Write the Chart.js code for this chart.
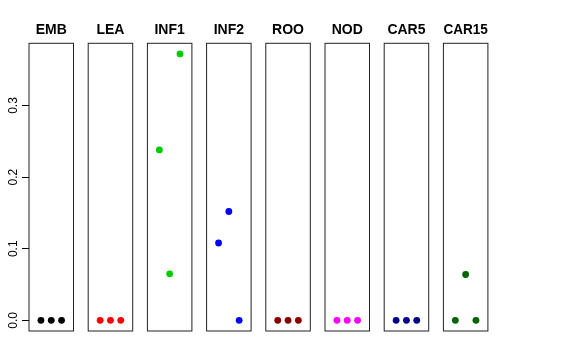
<!DOCTYPE html>
<html>
<head>
<meta charset="utf-8">
<script src="https://cdn.jsdelivr.net/npm/chart.js@4.4.1/dist/chart.umd.min.js"></script>
<style>
  html, body { margin: 0; padding: 0; background: #ffffff; }
  #wrap { position: relative; width: 576px; height: 360px; overflow: hidden; background: #fff; }
  canvas { position: absolute; top: 0; }
</style>
</head>
<body>
<div id="wrap"></div>
<script>
// ---- data ----
const panelNames = ['EMB', 'LEA', 'INF1', 'INF2', 'ROO', 'NOD', 'CAR5', 'CAR15'];
const xPositions = [1, 2, 3];
const EMB   = [0, 0, 0];
const LEA   = [0, 0, 0];
const INF1  = [0.238, 0.065, 0.372];
const INF2  = [0.108, 0.152, 0];
const ROO   = [0, 0, 0];
const NOD   = [0, 0, 0];
const CAR5  = [0, 0, 0];
const CAR15 = [0, 0.064, 0];
const yTickValues = [0, 0.1, 0.2, 0.3];
const yTickLabels = ['0.0', '0.1', '0.2', '0.3'];

// ---- styles ----
const panelColors = ['#000000', '#FF0000', '#00CD00', '#0000FF', '#8B0000', '#FF00FF', '#00008B', '#006400'];
const seriesByPanel = [EMB, LEA, INF1, INF2, ROO, NOD, CAR5, CAR15];

const FONT = '"Liberation Sans", Arial, Helvetica, sans-serif';
const panelLeft0 = 29, panelStep = 59.2, panelW = 44.5;
const plotTop = 43.3, plotBottom = 331, H = 360;

// axis ranges like R (4% extension)
const allY = [].concat(...seriesByPanel);
const yMinD = 0, yMaxD = Math.max(...allY);
const yPad = 0.04 * (yMaxD - yMinD);
const xlim = [0, 4];
const xPad = 0.04 * (xlim[1] - xlim[0]);

const boxPlugin = {
  id: 'box',
  beforeDatasetsDraw(chart) {
    const a = chart.chartArea, ctx = chart.ctx;
    ctx.save();
    ctx.strokeStyle = '#222';
    ctx.lineWidth = 1;
    ctx.strokeRect(a.left, a.top, a.right - a.left, a.bottom - a.top);
    ctx.restore();
  }
};

const wrap = document.getElementById('wrap');
panelNames.forEach((name, i) => {
  const pl = panelLeft0 + i * panelStep;
  const first = i === 0;
  const cLeft = first ? 0 : Math.round(pl) - 10;
  const cWidth = first ? Math.ceil(pl + panelW + 10) : 65;
  const padLeft = first ? 0 : pl - cLeft;
  const padRight = first ? cWidth - (pl + panelW) : cWidth - padLeft - panelW;
  const cv = document.createElement('canvas');
  cv.width = cWidth; cv.height = H;
  cv.style.left = cLeft + 'px';
  cv.style.width = cWidth + 'px'; cv.style.height = H + 'px';
  wrap.appendChild(cv);

  const yScale = {
    type: 'linear',
    display: first,
    min: yMinD - yPad, max: yMaxD + yPad,
    afterBuildTicks: (s) => { s.ticks = yTickValues.map(v => ({ value: v })); },
    border: { display: false },
    grid: { drawOnChartArea: false, drawTicks: true, tickLength: 7, color: '#000', lineWidth: 1 },
    ticks: {
      minRotation: 90, maxRotation: 90,
      crossAlign: 'center',
      padding: 0,
      color: '#000',
      font: { family: FONT, size: 12 },
      callback: (v) => { const k = yTickValues.indexOf(v); return k >= 0 ? yTickLabels[k] : ''; }
    }
  };
  if (first) yScale.afterFit = (s) => { s.width = panelLeft0; };

  new Chart(cv, {
    type: 'scatter',
    data: {
      datasets: [{
        data: xPositions.map((x, k) => ({ x: x, y: seriesByPanel[i][k] })),
        backgroundColor: panelColors[i],
        borderColor: panelColors[i],
        pointRadius: 3.4,
        pointBorderWidth: 0,
        pointHoverRadius: 3.4
      }]
    },
    plugins: [boxPlugin],
    options: {
      responsive: false,
      animation: false,
      devicePixelRatio: 1,
      layout: { padding: { left: padLeft, right: padRight, top: 0, bottom: H - plotBottom } },
      plugins: {
        legend: { display: false },
        tooltip: { enabled: false },
        title: {
          display: true,
          text: name,
          fullSize: false,
          color: '#000',
          font: { family: FONT, size: 14, weight: 'bold', lineHeight: 1.2 },
          padding: { top: 21.6, bottom: plotTop - 21.6 - 16.8 }
        }
      },
      scales: {
        x: {
          type: 'linear', display: false,
          min: xlim[0] - xPad, max: xlim[1] + xPad
        },
        y: yScale
      }
    }
  });
});
</script>
</body>
</html>
